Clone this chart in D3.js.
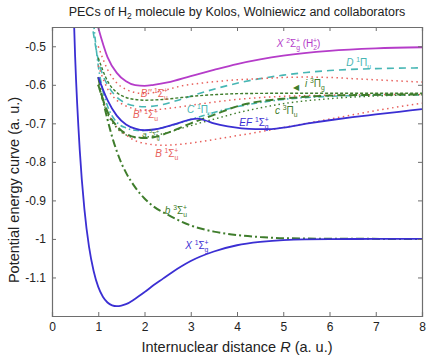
<!DOCTYPE html>
<html>
<head>
<meta charset="utf-8">
<script src="https://cdn.jsdelivr.net/npm/d3@7"></script>
<style>
  body { margin: 0; background: #fff; }
  text { font-family: "Liberation Sans", Arial, sans-serif; }
</style>
</head>
<body>
<script>
// potential energy curves, E in hartree vs R in bohr
const rX = [0.45, 0.5, 0.6, 0.7, 0.8, 0.9, 1.0, 1.1, 1.2, 1.3, 1.4, 1.5, 1.6, 1.8, 2.0, 2.2, 2.4, 2.6, 2.8, 3.0, 3.5, 4.0, 4.5, 5.0, 6.0, 7.0, 8.0]
const eX = [-0.34, -0.5267, -0.7696, -0.9222, -1.0202, -1.0832, -1.1245, -1.15, -1.1649, -1.1723, -1.1745, -1.1731, -1.1694, -1.1551, -1.1381, -1.1198, -1.103, -1.0862, -1.071, -1.0573, -1.0326, -1.0164, -1.0077, -1.0029, -1.0004, -1.0001, -1.0]

const rIon = [0.95, 1.0, 1.2, 1.4, 1.6, 1.8, 2.0, 2.2, 2.5, 3.0, 3.5, 4.0, 4.5, 5.0, 6.0, 7.0, 8.0]
const eIon = [-0.43, -0.452, -0.528, -0.569, -0.591, -0.601, -0.6026, -0.6, -0.594, -0.5775, -0.5613, -0.5461, -0.534, -0.5244, -0.5119, -0.5055, -0.5025]

const rEF = [1.0, 1.2, 1.4, 1.6, 1.8, 2.0, 2.2, 2.4, 2.6, 2.8, 3.0, 3.15, 3.3, 3.5, 3.8, 4.1, 4.4, 4.7, 5.0, 5.5, 6.0, 6.5, 7.0, 7.5, 8.0]
const eEF = [-0.58, -0.64, -0.68, -0.703, -0.714, -0.718, -0.716, -0.711, -0.704, -0.697, -0.69, -0.688, -0.692, -0.7, -0.708, -0.713, -0.715, -0.715, -0.711, -0.701, -0.692, -0.684, -0.677, -0.67, -0.663]

const rb = [1.0, 1.1, 1.2, 1.3, 1.4, 1.5, 1.6, 1.8, 2.0, 2.2, 2.5, 3.0, 3.5, 4.0, 4.5, 5.0, 6.0, 8.0]
const eb = [-0.58, -0.64, -0.69, -0.735, -0.772, -0.803, -0.828, -0.866, -0.895, -0.916, -0.937, -0.965, -0.981, -0.99, -0.995, -0.998, -0.9995, -1.0]

const rc = [1.0, 1.2, 1.4, 1.6, 1.8, 2.0, 2.2, 2.6, 3.0, 3.5, 4.0, 4.5, 5.0, 5.5, 6.0, 7.0, 8.0]
const ec = [-0.6, -0.67, -0.707, -0.727, -0.736, -0.738, -0.736, -0.72, -0.7, -0.678, -0.656, -0.643, -0.636, -0.631, -0.628, -0.626, -0.625]

const ra = [1.0, 1.2, 1.4, 1.6, 1.8, 2.0, 2.4, 2.8, 3.2, 3.6, 4.0, 4.5, 5.0, 6.0, 7.0, 8.0]
const ea = [-0.6, -0.675, -0.712, -0.73, -0.737, -0.736, -0.727, -0.713, -0.699, -0.686, -0.673, -0.66, -0.649, -0.636, -0.629, -0.626]

const ri = [1.0, 1.2, 1.4, 1.6, 1.8, 2.0, 2.4, 2.8, 3.2, 3.6, 4.0, 5.0, 6.0, 7.0, 8.0]
const ei = [-0.53, -0.59, -0.62, -0.633, -0.638, -0.64, -0.638, -0.633, -0.628, -0.625, -0.623, -0.622, -0.622, -0.622, -0.622]

const rB = [1.0, 1.2, 1.4, 1.6, 1.8, 2.0, 2.4, 2.8, 3.2, 3.6, 4.0, 4.5, 5.0, 5.5, 6.0, 6.5, 7.0, 7.5, 8.0]
const eB = [-0.6, -0.67, -0.71, -0.73, -0.745, -0.752, -0.757, -0.754, -0.748, -0.74, -0.732, -0.722, -0.711, -0.7, -0.689, -0.678, -0.667, -0.657, -0.648]

const rB1 = [1.0, 1.2, 1.4, 1.6, 1.8, 2.0, 2.2, 2.6, 3.0, 3.5, 4.0, 5.0, 6.0, 8.0]
const eB1 = [-0.55, -0.61, -0.64, -0.655, -0.663, -0.666, -0.665, -0.66, -0.653, -0.645, -0.638, -0.63, -0.627, -0.625]

const rB2 = [1.0, 1.2, 1.4, 1.6, 1.8, 2.0, 2.4, 2.8, 3.2, 3.6, 4.0, 4.5, 5.0, 5.5, 6.0, 6.5, 7.0, 7.5, 8.0]
const eB2 = [-0.5, -0.56, -0.595, -0.612, -0.62, -0.623, -0.615, -0.603, -0.596, -0.591, -0.587, -0.584, -0.581, -0.58, -0.581, -0.584, -0.587, -0.59, -0.593]

const rC = [0.9, 0.95, 1.0, 1.1, 1.2, 1.4, 1.6, 1.8, 2.0, 2.2, 2.6, 3.0, 3.5, 4.0, 4.5, 5.0, 6.0, 7.0, 8.0]
const eC = [-0.44, -0.5, -0.55, -0.615, -0.655, -0.697, -0.712, -0.718, -0.719, -0.716, -0.705, -0.69, -0.672, -0.657, -0.646, -0.638, -0.63, -0.627, -0.626]

const rD = [0.85, 0.9, 1.0, 1.1, 1.2, 1.4, 1.6, 1.8, 2.0, 2.4, 2.8, 3.2, 3.6, 4.0, 4.5, 5.0, 5.5, 6.0, 7.0, 8.0]
const eD = [-0.43, -0.47, -0.535, -0.575, -0.6, -0.632, -0.648, -0.655, -0.657, -0.651, -0.637, -0.622, -0.608, -0.596, -0.584, -0.575, -0.568, -0.563, -0.558, -0.556]

const xTicks = [0, 1, 2, 3, 4, 5, 6, 7, 8]
const yTicks = [-0.5, -0.6, -0.7, -0.8, -0.9, -1, -1.1]

const BLUE = '#3b2fd3'
const MAG = '#b53cc9'
const GREEN = '#3f7d2c'
const RED = '#e8605c'
const CYAN = '#47b6b4'

const curves = [
  { r: rD, e: eD, color: CYAN, w: 1.6, dash: '7,5' },
  { r: rC, e: eC, color: CYAN, w: 1.6, dash: '6,3,1.5,3' },
  { r: rB2, e: eB2, color: RED, w: 1.5, dash: '1.5,3.5' },
  { r: rB1, e: eB1, color: RED, w: 1.5, dash: '1.5,3.5' },
  { r: rB, e: eB, color: RED, w: 1.5, dash: '1.5,3.5' },
  { r: ri, e: ei, color: GREEN, w: 1.4, dash: '3,2' },
  { r: ra, e: ea, color: GREEN, w: 1.4, dash: '1.5,3' },
  { r: rc, e: ec, color: GREEN, w: 2, dash: '8,4' },
  { r: rb, e: eb, color: GREEN, w: 2, dash: '8,3,2,3' },
  { r: rEF, e: eEF, color: BLUE, w: 1.8, dash: null },
  { r: rIon, e: eIon, color: MAG, w: 1.8, dash: null },
  { r: rX, e: eX, color: BLUE, w: 1.8, dash: null }
]

const W = 440, H = 358
const m = { top: 27, right: 18, bottom: 42, left: 52 }

const svg = d3.select('body').append('svg')
  .attr('width', W).attr('height', H)

const x = d3.scaleLinear().domain([0, 8]).range([m.left, W - m.right])
const y = d3.scaleLinear().domain([-1.2, -0.45]).range([H - m.bottom, m.top])

svg.append('defs').append('clipPath').attr('id', 'clip')
  .append('rect')
  .attr('x', x(0)).attr('y', y(-0.45))
  .attr('width', x(8) - x(0)).attr('height', y(-1.2) - y(-0.45))

const line = d3.line()
  .x(d => x(d[0]))
  .y(d => y(d[1]))
  .curve(d3.curveMonotoneX)

const plot = svg.append('g').attr('clip-path', 'url(#clip)')

curves.forEach(c => {
  plot.append('path')
    .datum(d3.zip(c.r, c.e))
    .attr('d', line)
    .attr('fill', 'none')
    .attr('stroke', c.color)
    .attr('stroke-width', c.w)
    .attr('stroke-dasharray', c.dash)
})

// frame + axes, ticks point inside
const fmt = d => String(+d.toFixed(1))
const axes = [
  svg.append('g').attr('transform', `translate(0,${y(-1.2)})`)
    .call(d3.axisBottom(x).tickValues(xTicks).tickSize(-4).tickPadding(6).tickFormat(fmt)),
  svg.append('g').attr('transform', `translate(0,${y(-0.45)})`)
    .call(d3.axisTop(x).tickValues(xTicks).tickSize(-4).tickFormat('')),
  svg.append('g').attr('transform', `translate(${x(0)},0)`)
    .call(d3.axisLeft(y).tickValues(yTicks).tickSize(-4).tickPadding(6).tickFormat(fmt)),
  svg.append('g').attr('transform', `translate(${x(8)},0)`)
    .call(d3.axisRight(y).tickValues(yTicks).tickSize(-4).tickFormat(''))
]
axes.forEach(a => {
  a.select('.domain').attr('stroke', '#6e6e6e').attr('stroke-width', 1.2)
  a.selectAll('.tick line').attr('stroke', '#6e6e6e')
  a.selectAll('.tick text').attr('font-size', 12).attr('fill', '#222')
    .attr('font-family', '"Liberation Sans", Arial, sans-serif')
})

// state labels
function addLabel (R, E, color, parts, fs = 10) {
  const t = svg.append('text')
    .attr('x', x(R)).attr('y', y(E))
    .attr('fill', color).attr('font-size', fs)
  let cur = 0
  parts.forEach(([s, k, dx]) => {
    const off = k === 'sup' ? -4 : k === 'sub' ? 3 : 0
    const ts = t.append('tspan').text(s).attr('dy', off - cur)
    if (k === 'sup' || k === 'sub') ts.attr('font-size', fs * 0.68)
    if (k === 'it') ts.attr('font-style', 'italic')
    if (dx) ts.attr('dx', dx)
    cur = off
  })
}

const sg = (letter, mult, sym, gu, par, extra) => {
  const p = [[letter, 'it'], [' ', 'n'], [mult, 'sup'], [sym, 'n'], [gu, 'sub']]
  if (par) p.push([par, 'sup', -4])
  return extra ? p.concat(extra) : p
}

addLabel(4.86, -0.503, MAG, sg('X', '2', 'Σ', 'g', '+', [[' (H', 'n'], ['2', 'sub'], ['+', 'sup', -4], [')', 'n']]))
addLabel(6.36, -0.551, CYAN, sg('D', '1', 'Π', 'u'))
addLabel(1.92, -0.631, RED, sg("B''", '1', 'Σ', 'u', '+'))
addLabel(1.75, -0.687, RED, sg("B'", '1', 'Σ', 'u', '+'))
addLabel(2.92, -0.672, CYAN, sg('C', '1', 'Π', 'u'))
addLabel(4.05, -0.706, BLUE, sg('EF', '1', 'Σ', 'g', '+'))
addLabel(4.82, -0.676, GREEN, sg('c', '3', 'Π', 'u'))
addLabel(5.47, -0.607, GREEN, sg('i', '3', 'Π', 'g'))
addLabel(2.23, -0.788, RED, sg('B', '1', 'Σ', 'u', '+'))
addLabel(2.44, -0.935, GREEN, sg('b', '3', 'Σ', 'u', '+'))
addLabel(2.88, -1.027, BLUE, sg('X', '1', 'Σ', 'g', '+'))
addLabel(1.95, -0.736, GREEN, sg('a', '3', 'Σ', 'g', '+'), 8)

svg.append('text')
  .attr('x', x(5.2)).attr('y', y(-0.613))
  .attr('fill', GREEN).attr('font-size', 8)
  .text('◀')

// titles
const title = svg.append('text')
  .attr('x', (x(0) + x(8)) / 2).attr('y', 16)
  .attr('text-anchor', 'middle').attr('font-size', 12.5).attr('fill', '#222')
title.append('tspan').text('PECs of H')
title.append('tspan').text('2').attr('font-size', 8.5).attr('dy', 3)
title.append('tspan').text(' molecule by Kolos, Wolniewicz and collaborators').attr('dy', -3)

const xl = svg.append('text')
  .attr('x', (x(0) + x(8)) / 2).attr('y', 352)
  .attr('text-anchor', 'middle').attr('font-size', 14.5).attr('fill', '#222')
xl.append('tspan').text('Internuclear distance ')
xl.append('tspan').text('R').attr('font-style', 'italic')
xl.append('tspan').text(' (a. u.)')

svg.append('text')
  .attr('transform', `translate(19,${190}) rotate(-90)`)
  .attr('text-anchor', 'middle').attr('font-size', 14.5).attr('fill', '#222')
  .text('Potential energy curve (a. u.)')
</script>
</body>
</html>
